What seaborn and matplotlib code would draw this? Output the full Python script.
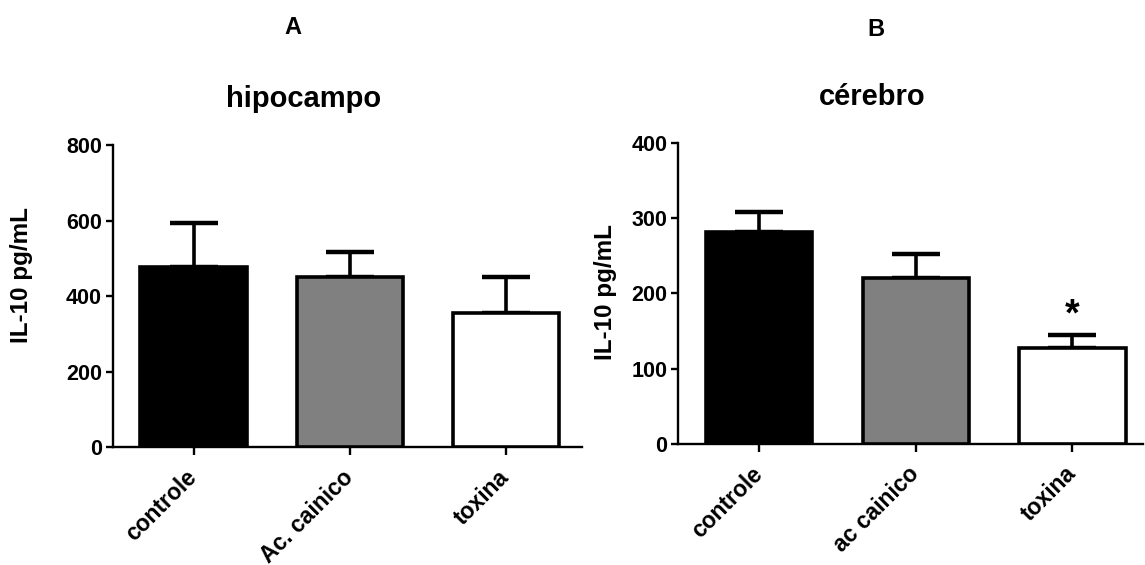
import matplotlib
matplotlib.use("Agg")
import matplotlib.pyplot as plt
import seaborn as sns
import pandas as pd

# ---- data ----
cats_a = ["controle", "Ac. cainico", "toxina"]
means_a = [477, 451, 356]
sem_a = [118, 66, 95]

cats_b = ["controle", "ac cainico", "toxina"]
means_b = [282, 221, 128]
sem_b = [26, 31, 17]

colors = ["#000000", "#808080", "#ffffff"]
ylabel = "IL-10 pg/mL"
title_a = "hipocampo"
title_b = "cérebro"
star_b = "*"

sns.set_theme(style="ticks")
plt.rcParams["font.family"] = ["Liberation Sans", "DejaVu Sans"]
plt.rcParams["font.weight"] = "bold"
plt.rcParams["text.color"] = "black"
plt.rcParams["axes.labelcolor"] = "black"
plt.rcParams["xtick.color"] = "black"
plt.rcParams["ytick.color"] = "black"

fig = plt.figure(figsize=(11.45, 5.65), dpi=100)
W, H = 1145, 565

def make_axes(l, r, b, t):
    return fig.add_axes([l / W, (H - b) / H, (r - l) / W, (b - t) / H])

ax_a = make_axes(113, 582, 447.3, 145.3)
ax_b = make_axes(678.3, 1143, 444, 142.7)

def draw(ax, cats, means, sem, ymax, yticks, xlim):
    df = pd.DataFrame({"cat": cats, "val": means})
    sns.barplot(data=df, x="cat", y="val", hue="cat", palette=colors,
                order=cats, hue_order=cats, legend=False, ax=ax,
                width=0.68, edgecolor="black", linewidth=2.6,
                errorbar=None, dodge=False, zorder=3)
    ax.errorbar(range(len(cats)), means, yerr=[[0] * len(cats), sem],
                fmt="none", ecolor="black", elinewidth=2.6, capsize=17,
                capthick=3.2, zorder=2)
    ax.set_ylim(0, ymax)
    ax.set_xlim(*xlim)
    ax.set_yticks(yticks)
    ax.set_yticklabels([str(v) for v in yticks], fontsize=15.5, fontweight="bold",
                       color="black")
    ax.set_xticks(range(len(cats)))
    ax.set_xticklabels(cats, rotation=45, ha="right", va="center",
                       rotation_mode="anchor", fontsize=16.5, fontweight="bold",
                       color="black")
    ax.set_xlabel("")
    ax.set_ylabel(ylabel, fontsize=17.5, fontweight="bold", color="black")
    sns.despine(ax=ax)
    for s in ["left", "bottom"]:
        ax.spines[s].set_linewidth(1.7)
        ax.spines[s].set_color("black")
    ax.tick_params(axis="y", length=5, width=1.7, pad=3, colors="black")
    ax.tick_params(axis="x", length=6, width=1.7, pad=13, colors="black")
    ax.set_facecolor("white")

draw(ax_a, cats_a, means_a, sem_a, 800, [0, 200, 400, 600, 800], (-0.516, 2.486))
draw(ax_b, cats_b, means_b, sem_b, 400, [0, 100, 200, 300, 400], (-0.516, 2.45))

ax_a.yaxis.set_label_coords(-0.170, 0.571)
ax_b.yaxis.set_label_coords(-0.132, 0.505)

ax_b.text(2, 170, star_b, ha="center", va="center", fontsize=27, fontweight="bold",
          color="black")

fig.text(292.7 / W, 1 - 27 / H, "A", ha="center", va="center", fontsize=17, fontweight="bold")
fig.text(875.7 / W, 1 - 30 / H, "B", ha="center", va="center", fontsize=17, fontweight="bold")
fig.text(304 / W, 1 - 99 / H, title_a, ha="center", va="center", fontsize=21, fontweight="bold")
fig.text(872 / W, 1 - 97 / H, title_b, ha="center", va="center", fontsize=21, fontweight="bold")

fig.savefig("out.png", dpi=100, facecolor="white")
